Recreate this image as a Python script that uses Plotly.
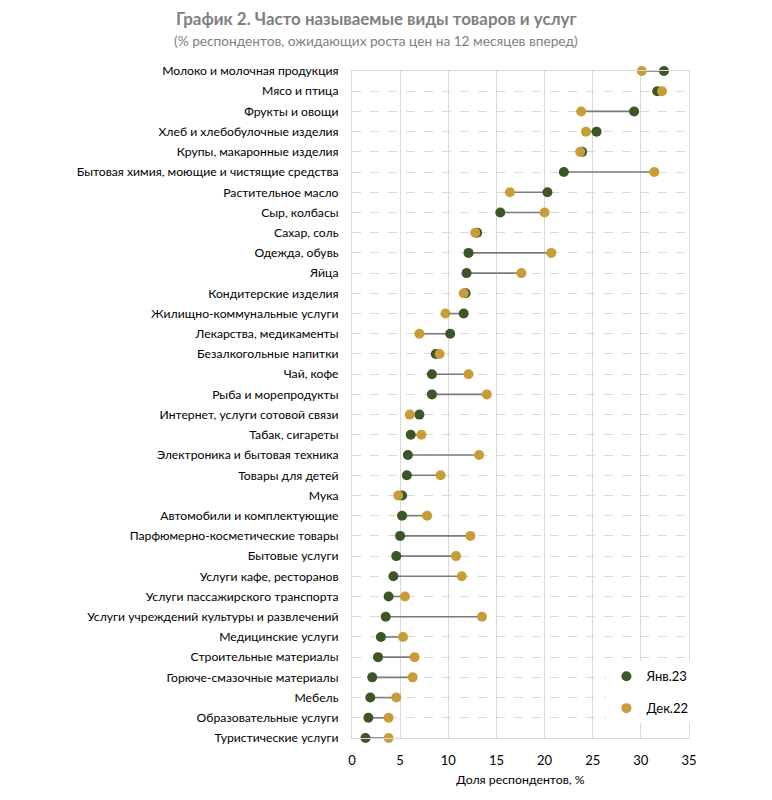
import plotly.graph_objects as go

categories = [
    "Молоко и молочная продукция",
    "Мясо и птица",
    "Фрукты и овощи",
    "Хлеб и хлебобулочные изделия",
    "Крупы, макаронные изделия",
    "Бытовая химия, моющие и чистящие средства",
    "Растительное масло",
    "Сыр, колбасы",
    "Сахар, соль",
    "Одежда, обувь",
    "Яйца",
    "Кондитерские изделия",
    "Жилищно-коммунальные услуги",
    "Лекарства, медикаменты",
    "Безалкогольные напитки",
    "Чай, кофе",
    "Рыба и морепродукты",
    "Интернет, услуги сотовой связи",
    "Табак, сигареты",
    "Электроника и бытовая техника",
    "Товары для детей",
    "Мука",
    "Автомобили и комплектующие",
    "Парфюмерно-косметические товары",
    "Бытовые услуги",
    "Услуги кафе, ресторанов",
    "Услуги пассажирского транспорта",
    "Услуги учреждений культуры и развлечений",
    "Медицинские услуги",
    "Строительные материалы",
    "Горюче-смазочные материалы",
    "Мебель",
    "Образовательные услуги",
    "Туристические услуги",
]

jan23 = [32.4, 31.7, 29.3, 25.4, 23.9, 22.0, 20.3, 15.4, 13.0, 12.1, 11.9, 11.8,
         11.6, 10.2, 8.7, 8.3, 8.3, 7.0, 6.1, 5.8, 5.7, 5.2, 5.2, 5.0, 4.6, 4.3,
         3.8, 3.5, 3.0, 2.7, 2.1, 1.9, 1.7, 1.4]
dec22 = [30.1, 32.2, 23.8, 24.3, 23.7, 31.4, 16.4, 20.0, 12.8, 20.7, 17.6, 11.6,
         9.7, 7.0, 9.1, 12.1, 14.0, 6.0, 7.2, 13.2, 9.2, 4.8, 7.8, 12.3, 10.8, 11.4,
         5.5, 13.5, 5.3, 6.5, 6.3, 4.6, 3.8, 3.8]

x_ticks = [0, 5, 10, 15, 20, 25, 30, 35]

GREEN = "#3d5527"
GOLD = "#c89d38"
FONT = "Lato"

# connector segments
lx, ly = [], []
for c, a, b in zip(categories, jan23, dec22):
    lx += [a, b, None]
    ly += [c, c, None]

fig = go.Figure()
fig.add_trace(go.Scatter(x=lx, y=ly, mode="lines",
                         line=dict(color="#7a7a7a", width=1.6),
                         showlegend=False, hoverinfo="skip", cliponaxis=False))
fig.add_trace(go.Scatter(x=jan23, y=categories, mode="markers", name="Янв.23",
                         marker=dict(color=GREEN, size=10), cliponaxis=False,
                         legendgroup="a"))
fig.add_trace(go.Scatter(x=dec22, y=categories, mode="markers", name="Дек.22",
                         marker=dict(color=GOLD, size=10), cliponaxis=False,
                         legendgroup="b"))

PH = 667  # plot height in px
PW = 337  # plot width in px

fig.update_layout(
    width=764, height=792,
    margin=dict(l=344, r=83, t=63, b=62),
    paper_bgcolor="white", plot_bgcolor="white",
    font=dict(family=FONT, size=12, color="#000000"),
    showlegend=True,
    legend=dict(x=0.755, y=0.115, xanchor="left", yanchor="top",
                bgcolor="white", font=dict(size=13, color="#000"),
                tracegroupgap=12, itemwidth=30),
    annotations=[
        dict(text="<b>График 2. Часто называемые виды товаров и услуг</b>",
             xref="paper", yref="paper", x=(376 - 352) / PW, y=1 + (71 - 19) / PH,
             xanchor="center", yanchor="middle", showarrow=False,
             font=dict(size=16.9, color="#7f7f7f", family=FONT)),
        dict(text="(% респондентов, ожидающих роста цен на 12 месяцев вперед)",
             xref="paper", yref="paper", x=(376 - 352) / PW, y=1 + (71 - 40) / PH,
             xanchor="center", yanchor="middle", showarrow=False,
             font=dict(size=13.7, color="#7f7f7f", family=FONT)),
    ],
)

fig.update_xaxes(range=[0, 35], tickvals=x_ticks, showgrid=True,
                 gridcolor="#d9d9d9", gridwidth=1, zeroline=False,
                 showline=True, linecolor="#d9d9d9", mirror=True,
                 tickfont=dict(size=13), ticks="", ticklabelstandoff=10,
                 title=dict(text="Доля респондентов, %", font=dict(size=12.3), standoff=8))
fig.update_yaxes(type="category", categoryorder="array", categoryarray=categories,
                 range=[len(categories) - 1, 0], showgrid=True,
                 gridcolor="#d9d9d9", griddash="dash", gridwidth=1,
                 zeroline=False, showline=True, linecolor="#d9d9d9", mirror=True,
                 ticks="", ticklabelstandoff=10, tickfont=dict(size=12.2))

fig.write_html("out.html")
